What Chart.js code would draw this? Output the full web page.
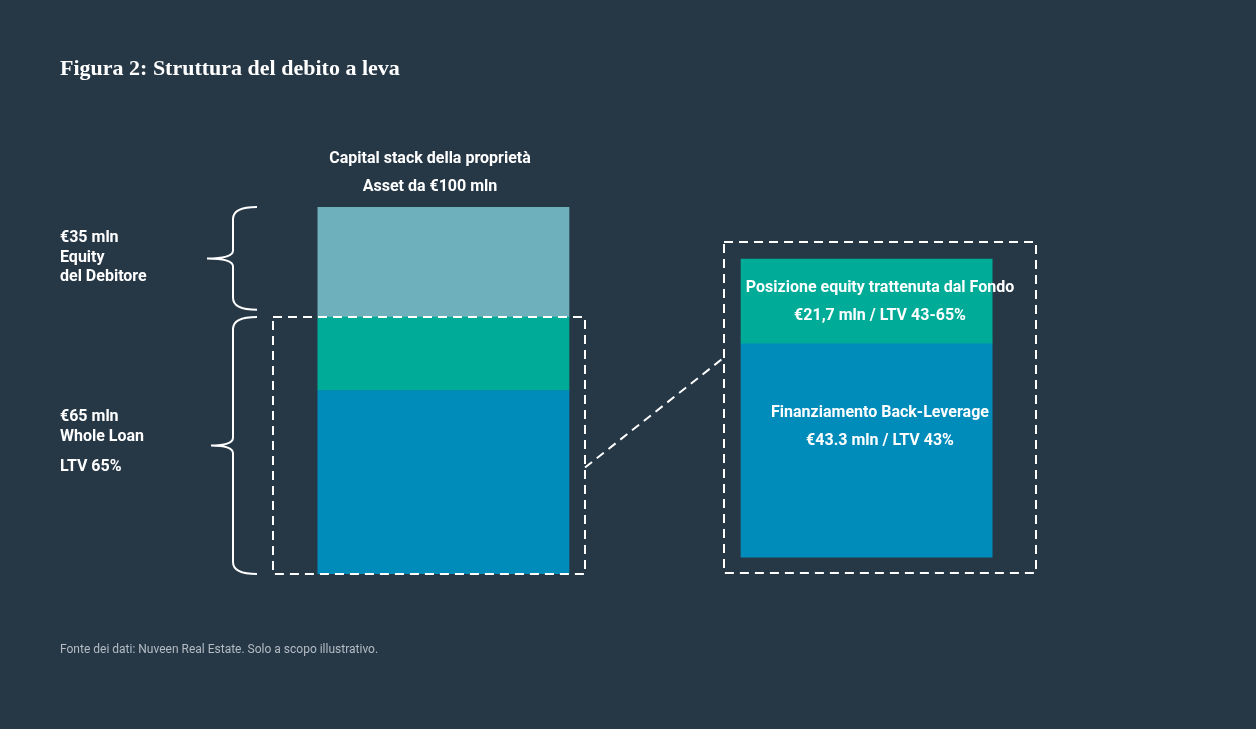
<!DOCTYPE html>
<html><head><meta charset="utf-8">
<script src="https://cdn.jsdelivr.net/npm/chart.js@4"></script>
<style>
html,body{margin:0;background:#263746;}
#wrap{position:relative;width:1256px;height:729px;}
</style></head><body>
<div id="wrap"><canvas id="c" width="1256" height="729"></canvas></div>
<script>
// categories: capital stack (left), gap, zoom (right)
const categories = ['Capital stack', '', 'Zoom'];
// floating bars [start, end] in % of the €100 mln asset, as drawn
const backLeverage = [[0, 50], null, [4.6, 62.7]];
const fundEquity = [[50, 70], null, [62.7, 85.8]];
const borrowerEquity = [[70, 100], null, null];

const FONT = "'Liberation Sans Narrow', 'Roboto', sans-serif";

function dashedRect(ctx, x1, y1, x2, y2) {
    ctx.strokeRect(x1, y1, x2 - x1, y2 - y1);
}

function brace(ctx, x, yTop, yBot, tip) {
    const mid = (yTop + yBot) / 2;
    ctx.beginPath();
    ctx.moveTo(x + 24, yTop);
    ctx.quadraticCurveTo(x, yTop, x, yTop + 12);
    ctx.lineTo(x, mid - 8);
    ctx.quadraticCurveTo(x, mid, tip, mid);
    ctx.quadraticCurveTo(x, mid, x, mid + 8);
    ctx.lineTo(x, yBot - 12);
    ctx.quadraticCurveTo(x, yBot, x + 24, yBot);
    ctx.stroke();
}

const overlay = {
    id: 'overlay',
    afterDraw(chart) {
        const ctx = chart.ctx;
        const y = chart.scales.y;
        const left = chart.getDatasetMeta(0).data[0];
        const right = chart.getDatasetMeta(0).data[2];
        const lw = left.width / 2, rw = right.width / 2;
        ctx.save();
        ctx.strokeStyle = '#ffffff';
        ctx.lineWidth = 2;
        ctx.setLineDash([9, 6]);
        // left box around whole loan
        const lx1 = left.x - lw - 18, lx2 = left.x + lw + 16;
        dashedRect(ctx, lx1, y.getPixelForValue(70), lx2, y.getPixelForValue(0));
        // right box
        const rx1 = right.x - rw - 17, rx2 = right.x + rw + 17;
        const rTop = y.getPixelForValue(85.8) - 17;
        dashedRect(ctx, rx1, rTop, rx2, y.getPixelForValue(0) - 1);
        ctx.beginPath();
        ctx.moveTo(lx2, y.getPixelForValue(29));
        ctx.lineTo(rx1, y.getPixelForValue(59));
        ctx.stroke();
        ctx.setLineDash([]);
        // braces
        brace(ctx, left.x - lw - 58, y.getPixelForValue(100), y.getPixelForValue(72), left.x - lw - 84);
        brace(ctx, left.x - lw - 58, y.getPixelForValue(70), y.getPixelForValue(0), left.x - lw - 80);

        ctx.fillStyle = '#ffffff';
        ctx.textBaseline = 'middle';
        ctx.font = "bold 24px 'DejaVu Serif', serif";
        ctx.textAlign = 'left';
        ctx.font = "bold 22px 'Liberation Serif', serif";
        ctx.fillText('Figura 2: Struttura del debito a leva', 60, 69);

        ctx.font = 'bold 16px ' + FONT;
        ctx.textAlign = 'center';
        ctx.fillText('Capital stack della proprietà', left.x, 159);
        ctx.fillText('Asset da €100 mln', left.x, 187);
        const tealMid = y.getPixelForValue((62.7 + 85.8) / 2);
        ctx.fillText('Posizione equity trattenuta dal Fondo', right.x, tealMid - 14);
        ctx.fillText('€21,7 mln / LTV 43-65%', right.x, tealMid + 14);
        const blueMid = y.getPixelForValue(40);
        ctx.fillText('Finanziamento Back-Leverage', right.x, blueMid - 14);
        ctx.fillText('€43.3 mln / LTV 43%', right.x, blueMid + 14);

        ctx.textAlign = 'left';
        ctx.fillText('€35 mln', 60, 238);
        ctx.fillText('Equity', 60, 258);
        ctx.fillText('del Debitore', 60, 277);
        ctx.fillText('€65 mln', 60, 417);
        ctx.fillText('Whole Loan', 60, 437);
        ctx.fillText('LTV 65%', 60, 467);

        ctx.font = '12px ' + FONT;
        ctx.fillStyle = '#b4bcc4';
        ctx.fillText('Fonte dei dati: Nuveen Real Estate. Solo a scopo illustrativo.', 60, 650);
        ctx.restore();
    }
};

new Chart(document.getElementById('c'), {
    type: 'bar',
    data: {
        labels: categories,
        datasets: [
            { label: 'Finanziamento Back-Leverage', data: backLeverage, backgroundColor: '#008cbb' },
            { label: 'Posizione equity trattenuta dal Fondo', data: fundEquity, backgroundColor: '#00ac98' },
            { label: 'Equity del Debitore', data: borrowerEquity, backgroundColor: '#6fb0bd' }
        ]
    },
    options: {
        responsive: false,
        animation: false,
        layout: { padding: { left: 317.5, right: 263.5, top: 207, bottom: 155 } },
        datasets: { bar: { grouped: false, barThickness: 278, borderWidth: 0, borderSkipped: false } },
        plugins: { legend: { display: false }, tooltip: { enabled: false } },
        scales: {
            x: { display: false },
            y: { display: false, min: 0, max: 100 }
        }
    },
    plugins: [overlay]
});
</script>
</body></html>
